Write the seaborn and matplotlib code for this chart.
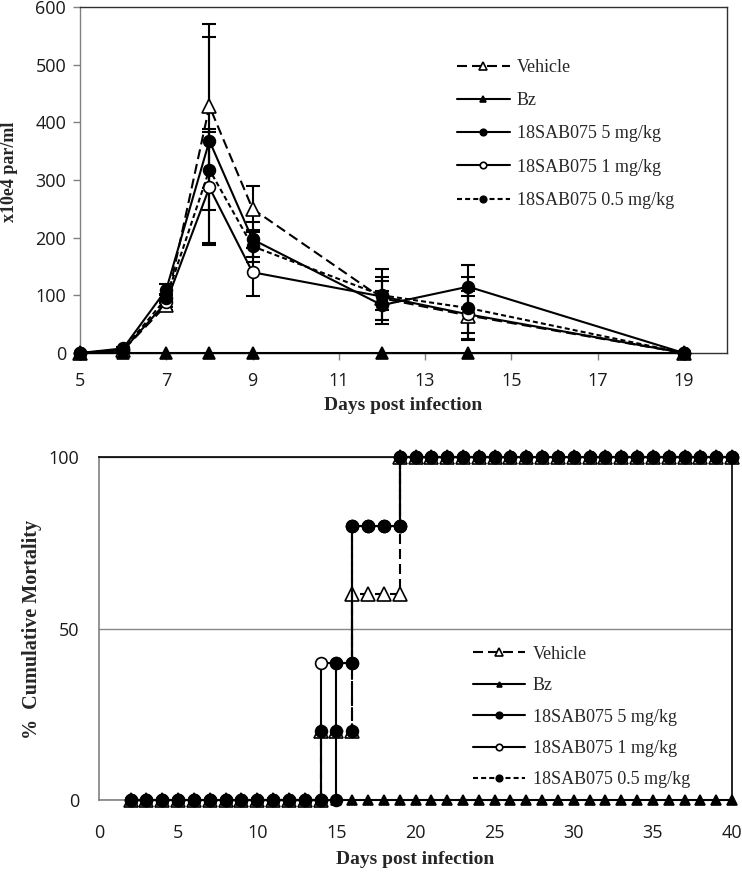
import matplotlib
matplotlib.use("Agg")
import matplotlib.pyplot as plt
import seaborn as sns

# Parasitaemia (x10e4 par/ml) per day post infection
days = [5, 6, 7, 8, 9, 12, 14, 19]
vehicle = [0, 5, 83, 428, 250, 95, 65, 0]
vehicle_err = [0, 2, 8, 142, 40, 37, 42, 0]
bz = [0, 0, 0, 0, 0, 0, 0, 0]
sab_5 = [0, 8, 110, 368, 197, 83, 115, 0]
sab_5_err = [0, 3, 10, 180, 30, 25, 38, 0]
sab_1 = [0, 5, 88, 287, 140, 98, 67, 0]
sab_1_err = [0, 2, 8, 96, 42, 48, 32, 0]
sab_05 = [0, 6, 95, 318, 185, 100, 78, 0]
sab_05_err = [0, 2, 8, 70, 28, 25, 54, 0]

# Cumulative mortality (%) - step curves, repeated days give the vertical jumps
mort_vehicle_x = [2, 3, 4, 5, 6, 7, 8, 9, 10, 11, 12, 13, 14, 14, 15, 16, 16, 17, 18, 19, 19,
                  20, 21, 22, 23, 24, 25, 26, 27, 28, 29, 30, 31, 32, 33, 34, 35, 36, 37, 38, 39, 40]
mort_vehicle_y = [0, 0, 0, 0, 0, 0, 0, 0, 0, 0, 0, 0, 0, 20, 20, 20, 60, 60, 60, 60, 100,
                  100, 100, 100, 100, 100, 100, 100, 100, 100, 100, 100, 100, 100, 100, 100, 100, 100, 100, 100, 100, 100]
mort_bz_x = [2, 3, 4, 5, 6, 7, 8, 9, 10, 11, 12, 13, 14, 15, 16, 17, 18, 19, 20, 21,
             22, 23, 24, 25, 26, 27, 28, 29, 30, 31, 32, 33, 34, 35, 36, 37, 38, 39, 40]
mort_bz_y = [0, 0, 0, 0, 0, 0, 0, 0, 0, 0, 0, 0, 0, 0, 0, 0, 0, 0, 0, 0,
             0, 0, 0, 0, 0, 0, 0, 0, 0, 0, 0, 0, 0, 0, 0, 0, 0, 0, 0]
mort_5_x = [2, 3, 4, 5, 6, 7, 8, 9, 10, 11, 12, 13, 14, 15, 15, 16, 16, 17, 18, 19, 19,
            20, 21, 22, 23, 24, 25, 26, 27, 28, 29, 30, 31, 32, 33, 34, 35, 36, 37, 38, 39, 40]
mort_5_y = [0, 0, 0, 0, 0, 0, 0, 0, 0, 0, 0, 0, 0, 0, 40, 40, 80, 80, 80, 80, 100,
            100, 100, 100, 100, 100, 100, 100, 100, 100, 100, 100, 100, 100, 100, 100, 100, 100, 100, 100, 100, 100]
mort_1_x = [2, 3, 4, 5, 6, 7, 8, 9, 10, 11, 12, 13, 14, 14, 15, 16, 16, 17, 18, 19, 19,
            20, 21, 22, 23, 24, 25, 26, 27, 28, 29, 30, 31, 32, 33, 34, 35, 36, 37, 38, 39, 40]
mort_1_y = [0, 0, 0, 0, 0, 0, 0, 0, 0, 0, 0, 0, 0, 40, 40, 40, 80, 80, 80, 80, 100,
            100, 100, 100, 100, 100, 100, 100, 100, 100, 100, 100, 100, 100, 100, 100, 100, 100, 100, 100, 100, 100]
mort_05_x = [2, 3, 4, 5, 6, 7, 8, 9, 10, 11, 12, 13, 14, 14, 15, 16, 16, 17, 18, 19, 19,
             20, 21, 22, 23, 24, 25, 26, 27, 28, 29, 30, 31, 32, 33, 34, 35, 36, 37, 38, 39, 40]
mort_05_y = [0, 0, 0, 0, 0, 0, 0, 0, 0, 0, 0, 0, 0, 20, 20, 20, 80, 80, 80, 80, 100,
             100, 100, 100, 100, 100, 100, 100, 100, 100, 100, 100, 100, 100, 100, 100, 100, 100, 100, 100, 100, 100]

labels = ["Vehicle", "Bz", "18SAB075 5 mg/kg", "18SAB075 1 mg/kg", "18SAB075 0.5 mg/kg"]
long_dash = (0, (4.8, 2.4))
short_dash = (0, (2.4, 1.5))

sns.set_theme(style="ticks")
plt.rcParams["font.family"] = ["Open Sans", "DejaVu Sans"]
serif = "Liberation Serif"

fig = plt.figure(figsize=(7.42, 8.73), dpi=100)
ax1 = fig.add_axes([80 / 742, 1 - 353 / 873, 647 / 742, 346 / 873])
ax2 = fig.add_axes([99 / 742, 1 - 800 / 873, 633 / 742, 343 / 873])


def draw(ax, x, y, label, marker, mfc, ls, ms, z):
    sns.lineplot(x=x, y=y, ax=ax, estimator=None, sort=False, color="black",
                 marker=marker, markersize=ms, markerfacecolor=mfc,
                 markeredgecolor="black", markeredgewidth=1.2, linewidth=1.5,
                 linestyle=ls, label=label, clip_on=False, zorder=z)


# ---- top: parasitaemia ----
for vals, err in [(vehicle, vehicle_err), (sab_5, sab_5_err),
                  (sab_1, sab_1_err), (sab_05, sab_05_err)]:
    ax1.errorbar(days, vals, yerr=err, fmt="none", ecolor="black",
                 elinewidth=1.5, capsize=5, capthick=1.5, zorder=1)

draw(ax1, days, vehicle, labels[0], "^", "white", long_dash, 9.5, 3)
draw(ax1, days, bz, labels[1], "^", "black", "-", 9, 4)
draw(ax1, days, sab_5, labels[2], "o", "black", "-", 8.5, 5)
draw(ax1, days, sab_1, labels[3], "o", "white", "-", 8.5, 6)
draw(ax1, days, sab_05, labels[4], "o", "black", short_dash, 8.5, 7)

ax1.set_xlim(5, 20)
ax1.set_xticks([5, 7, 9, 11, 13, 15, 17, 19])
ax1.set_ylim(0, 600)
ax1.set_yticks([0, 100, 200, 300, 400, 500, 600])
ax1.tick_params(axis="both", direction="out", length=5, width=1, color="#808080",
                labelsize=13, labelcolor="#1a1a1a")
ax1.tick_params(axis="x", pad=9)
ax1.tick_params(axis="y", pad=5)
ax1.set_xlabel("Days post infection", fontfamily=serif, fontweight="bold", fontsize=14)
ax1.set_ylabel("x10e4 par/ml", fontfamily=serif, fontweight="bold", fontsize=13)
ax1.xaxis.set_label_coords(0.5, -0.128)
ax1.yaxis.set_label_coords(-0.096, 0.525)
for side, sp in ax1.spines.items():
    sp.set_visible(True)
    sp.set_linewidth(1)
    sp.set_color("#808080" if side == "left" else "#303030")

h, l = ax1.get_legend_handles_labels()
ax1.legend(h, l, loc="upper left", bbox_to_anchor=(0.583, 0.85), frameon=False,
           prop={"family": serif, "size": 13}, handlelength=2.9, handletextpad=0.4,
           labelspacing=0.9, borderpad=0, borderaxespad=0, markerscale=0.55)

# ---- bottom: cumulative mortality ----
draw(ax2, mort_vehicle_x, mort_vehicle_y, labels[0], "^", "white", long_dash, 10.5, 3)
draw(ax2, mort_bz_x, mort_bz_y, labels[1], "^", "black", "-", 6.5, 4)
draw(ax2, mort_5_x, mort_5_y, labels[2], "o", "black", "-", 8.5, 6)
draw(ax2, mort_1_x, mort_1_y, labels[3], "o", "white", "-", 8.5, 5)
draw(ax2, mort_05_x, mort_05_y, labels[4], "o", "black", short_dash, 8.5, 7)

ax2.set_xlim(0, 40)
ax2.set_xticks([0, 5, 10, 15, 20, 25, 30, 35, 40])
ax2.set_ylim(0, 100)
ax2.set_yticks([0, 50, 100])
ax2.yaxis.grid(True, color="#888888", linewidth=1)
ax2.xaxis.grid(False)
ax2.tick_params(axis="both", length=0, labelsize=13, labelcolor="#1a1a1a")
ax2.tick_params(axis="x", pad=17)
ax2.tick_params(axis="y", pad=14)
ax2.set_xlabel("Days post infection", fontfamily=serif, fontweight="bold", fontsize=14)
ax2.set_ylabel("%  Cumulative Mortality", fontfamily=serif, fontweight="bold", fontsize=14.5)
ax2.xaxis.set_label_coords(0.5, -0.150)
ax2.yaxis.set_label_coords(-0.090, 0.496)
for side, sp in ax2.spines.items():
    sp.set_visible(True)
    sp.set_linewidth(1.2)
    sp.set_color("#808080" if side in ("left", "bottom") else "black")

h, l = ax2.get_legend_handles_labels()
ax2.legend(h, l, loc="upper left", bbox_to_anchor=(0.591, 0.45), frameon=False,
           prop={"family": serif, "size": 13}, handlelength=2.9, handletextpad=0.4,
           labelspacing=0.8, borderpad=0, borderaxespad=0, markerscale=0.55)

fig.savefig("out.png", dpi=100)
